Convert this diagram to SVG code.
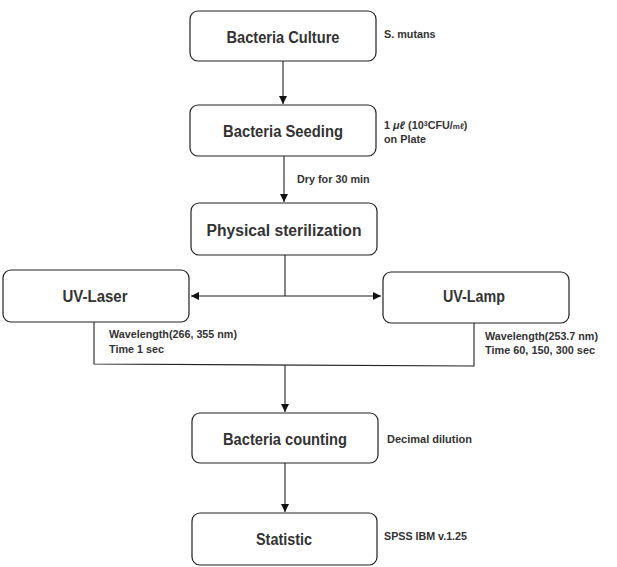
<svg xmlns="http://www.w3.org/2000/svg" width="617" height="567" viewBox="0 0 617 567">
<defs>
<style>
.box{fill:#fff;stroke:#222;stroke-width:1.2}
.lbl{font-family:"Liberation Sans",Arial,sans-serif;font-weight:bold;font-size:16px;fill:#333;text-anchor:middle}
.note{font-family:"Liberation Sans",Arial,sans-serif;font-weight:bold;font-size:10.8px;fill:#333}
.ln{fill:none;stroke:#222;stroke-width:1.1}
</style>
<marker id="ah" viewBox="0 0 10 10" refX="10" refY="5" markerWidth="8" markerHeight="8" markerUnits="userSpaceOnUse" orient="auto">
<path d="M0,0 L10,5 L0,10 Z" fill="#111"/>
</marker>
</defs>
<rect width="617" height="567" fill="#fff"/>
<g id="connectors">
<line class="ln" x1="283" y1="61" x2="283" y2="104" marker-end="url(#ah)"/>
<line class="ln" x1="284" y1="156" x2="284" y2="202" marker-end="url(#ah)"/>
<line class="ln" x1="285" y1="255" x2="285" y2="296"/>
<line class="ln" x1="285" y1="296" x2="191" y2="296" marker-end="url(#ah)"/>
<line class="ln" x1="285" y1="296" x2="381" y2="296" marker-end="url(#ah)"/>
<polyline class="ln" points="94,322 94,364 474,366 474,323"/>
<line class="ln" x1="285" y1="365" x2="285" y2="412" marker-end="url(#ah)"/>
<line class="ln" x1="285" y1="463" x2="285" y2="512" marker-end="url(#ah)"/>
</g>
<g id="n1">
<rect class="box" x="190" y="11" width="186" height="50" rx="8"/>
<text class="lbl" x="283" y="43" textLength="113" lengthAdjust="spacingAndGlyphs">Bacteria Culture</text>
<text class="note" x="384" y="38" font-size="11">S. mutans</text>
</g>
<g id="n2">
<rect class="box" x="190" y="105" width="186" height="51" rx="8"/>
<text class="lbl" x="283" y="137" textLength="120" lengthAdjust="spacingAndGlyphs">Bacteria Seeding</text>
<text class="note" x="384" y="129">1 <tspan font-style="italic">μℓ</tspan> (10<tspan font-size="7" dy="-3">3</tspan><tspan dy="3">CFU/</tspan><tspan font-size="8">mℓ</tspan>)</text>
<text class="note" x="384" y="143">on Plate</text>
<text class="note" x="297" y="183">Dry for 30 min</text>
</g>
<g id="n3">
<rect class="box" x="191" y="203" width="186" height="52" rx="8"/>
<text class="lbl" x="284" y="236" textLength="155" lengthAdjust="spacingAndGlyphs">Physical sterilization</text>
</g>
<g id="n4">
<rect class="box" x="3" y="270" width="186" height="52" rx="8"/>
<text class="lbl" x="95" y="302" textLength="65" lengthAdjust="spacingAndGlyphs">UV-Laser</text>
<text class="note" x="109" y="338" textLength="128" lengthAdjust="spacingAndGlyphs">Wavelength(266, 355 nm)</text>
<text class="note" x="109" y="353">Time 1 sec</text>
</g>
<g id="n5">
<rect class="box" x="383" y="272" width="186" height="51" rx="8"/>
<text class="lbl" x="474" y="302" textLength="62" lengthAdjust="spacingAndGlyphs">UV-Lamp</text>
<text class="note" x="485" y="340" textLength="113" lengthAdjust="spacingAndGlyphs">Wavelength(253.7 nm)</text>
<text class="note" x="485" y="354" textLength="110" lengthAdjust="spacingAndGlyphs">Time 60, 150, 300 sec</text>
</g>
<g id="n6">
<rect class="box" x="192" y="413" width="186" height="50" rx="8"/>
<text class="lbl" x="285" y="445" textLength="124" lengthAdjust="spacingAndGlyphs">Bacteria counting</text>
<text class="note" x="387" y="443" textLength="85" lengthAdjust="spacingAndGlyphs">Decimal dilution</text>
</g>
<g id="n7">
<rect class="box" x="192" y="513" width="185" height="52" rx="8"/>
<text class="lbl" x="284" y="545" textLength="56" lengthAdjust="spacingAndGlyphs">Statistic</text>
<text class="note" x="384" y="540" textLength="83" lengthAdjust="spacingAndGlyphs">SPSS IBM v.1.25</text>
</g>
</svg>
